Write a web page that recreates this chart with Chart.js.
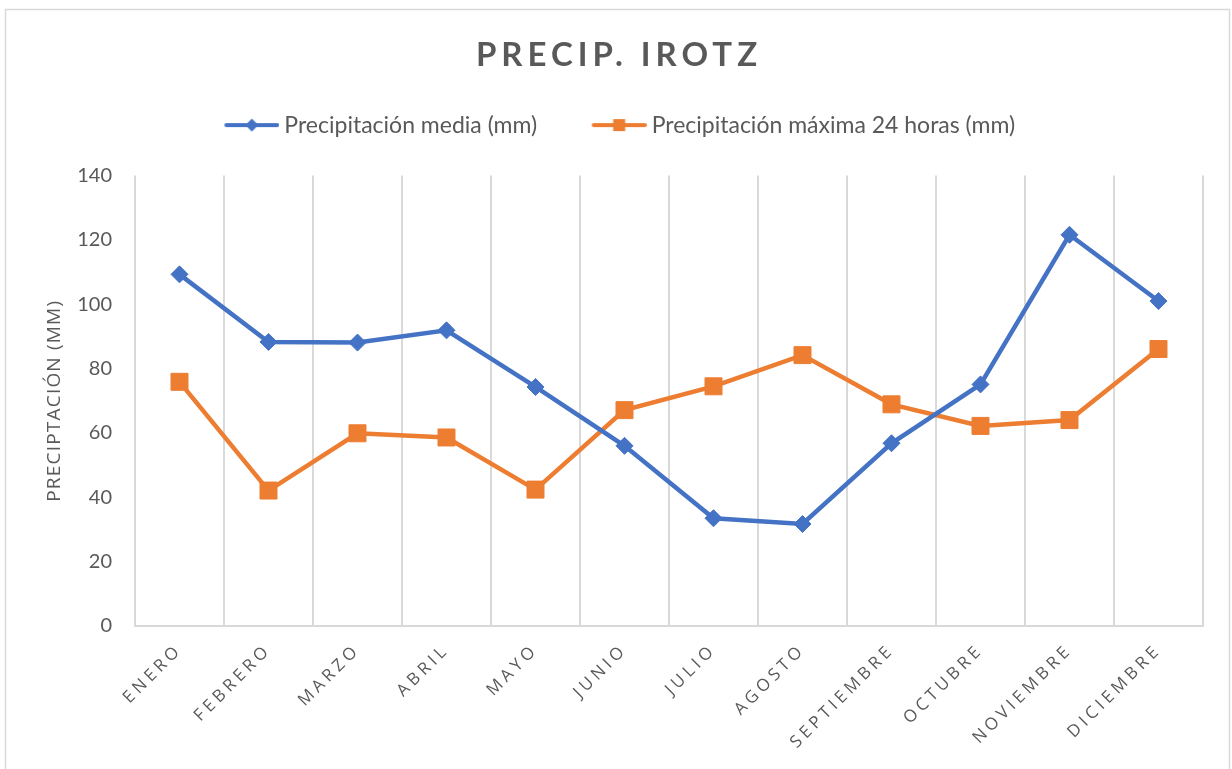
<!DOCTYPE html>
<html>
<head>
<meta charset="utf-8">
<script src="https://cdn.jsdelivr.net/npm/chart.js@4.4.1/dist/chart.umd.min.js"></script>
<style>
  html, body { margin: 0; padding: 0; background: #ffffff; }
  canvas { display: block; }
</style>
</head>
<body>
<canvas id="c" width="1232" height="769"></canvas>
<script>
const chartTitle = 'PRECIP. IROTZ';
const yAxisTitle = 'PRECIPTACIÓN (MM)';
const months = ['ENERO', 'FEBRERO', 'MARZO', 'ABRIL', 'MAYO', 'JUNIO', 'JULIO', 'AGOSTO', 'SEPTIEMBRE', 'OCTUBRE', 'NOVIEMBRE', 'DICIEMBRE'];
const seriesNames = ['Precipitación media (mm)', 'Precipitación máxima 24 horas (mm)'];
const precipMedia = [109.3, 88.3, 88.1, 91.9, 74.3, 56.0, 33.5, 31.7, 56.8, 75.1, 121.6, 101.0];
const precipMaxima24h = [75.9, 42.1, 59.9, 58.6, 42.4, 67.1, 74.5, 84.2, 68.9, 62.2, 64.0, 86.1];
const yTicks = { min: 0, max: 140, step: 20 };

const BLUE = '#4472C4';
const ORANGE = '#ED7D31';
const TEXT = '#595959';
const GRID = '#d9d9d9';

function legendImage(color, shape) {
  const c = document.createElement('canvas');
  c.width = 63; c.height = 20;
  const g = c.getContext('2d');
  g.strokeStyle = color; g.lineWidth = 4; g.lineCap = 'round';
  g.beginPath(); g.moveTo(10, 10); g.lineTo(61, 10); g.stroke();
  g.fillStyle = color;
  const cx = 35.5, cy = 10;
  g.beginPath();
  if (shape === 'diamond') {
    g.moveTo(cx, cy - 6.5); g.lineTo(cx + 6.5, cy); g.lineTo(cx, cy + 6.5); g.lineTo(cx - 6.5, cy);
  } else {
    g.rect(cx - 6, cy - 6, 12, 12);
  }
  g.closePath(); g.fill();
  return c;
}
const legendImgs = [legendImage(BLUE, 'diamond'), legendImage(ORANGE, 'square')];

function wrapSpacing(obj, fn, sp) {
  if (!obj || obj['__wrapped_' + fn]) return;
  const orig = obj[fn];
  obj[fn] = function (...args) {
    const c = this.ctx;
    c.save();
    c.letterSpacing = sp;
    const r = orig.apply(this, args);
    c.restore();
    return r;
  };
  obj['__wrapped_' + fn] = true;
}

const spacingPlugin = {
  id: 'spacingPlugin',
  beforeDraw(chart) {
    wrapSpacing(chart.titleBlock, 'draw', '5px');
    wrapSpacing(chart.scales.x, 'drawLabels', '4px');
    wrapSpacing(chart.scales.y, 'drawTitle', '1.2px');
    const ctx = chart.ctx;
    ctx.save();
    ctx.fillStyle = '#ffffff';
    ctx.fillRect(0, 0, chart.width, chart.height);
    ctx.strokeStyle = GRID;
    ctx.lineWidth = 1.5;
    ctx.strokeRect(5.5, 9.5, 1224, 770);
    ctx.restore();
  }
};

new Chart(document.getElementById('c'), {
  type: 'line',
  data: {
    labels: months,
    datasets: [
      {
        label: seriesNames[0],
        data: precipMedia,
        borderColor: BLUE,
        backgroundColor: BLUE,
        borderWidth: 4.5,
        tension: 0,
        pointStyle: 'rectRot',
        pointRadius: 8.5,
        pointHoverRadius: 8.5,
        pointBorderWidth: 1,
        pointBorderColor: BLUE,
        pointBackgroundColor: BLUE
      },
      {
        label: seriesNames[1],
        data: precipMaxima24h,
        borderColor: ORANGE,
        backgroundColor: ORANGE,
        borderWidth: 4.5,
        tension: 0,
        pointStyle: 'rect',
        pointRadius: 12,
        pointHoverRadius: 12,
        pointBorderWidth: 1,
        pointBorderColor: ORANGE,
        pointBackgroundColor: ORANGE
      }
    ]
  },
  options: {
    responsive: false,
    animation: false,
    devicePixelRatio: 1,
    layout: { padding: { top: 0, left: 6, right: 0, bottom: 0 } },
    plugins: {
      title: {
        display: true,
        text: chartTitle,
        color: TEXT,
        font: { family: 'Lato', size: 33, weight: 'bold', lineHeight: 1.2 },
        padding: { top: 36, bottom: -15 }
      },
      subtitle: {
        display: true,
        text: '',
        weight: 500,
        font: { family: 'Lato', size: 10, lineHeight: 1.2 },
        padding: { top: 17, bottom: 0 }
      },
      legend: {
        display: true,
        position: 'top',
        labels: {
          color: TEXT,
          font: { family: 'Lato', size: 23 },
          usePointStyle: true,
          pointStyleWidth: 50,
          padding: 53,
          generateLabels(chart) {
            const items = Chart.defaults.plugins.legend.labels.generateLabels(chart);
            items.forEach((it, i) => { it.pointStyle = legendImgs[i]; });
            return items;
          }
        }
      },
      tooltip: { enabled: false }
    },
    scales: {
      x: {
        offset: true,
        grid: { display: true, offset: true, color: GRID, lineWidth: 2, drawTicks: false },
        border: { display: true, color: GRID, width: 2 },
        ticks: {
          color: TEXT,
          font: { family: 'Open Sans', size: 17 },
          minRotation: 45,
          maxRotation: 45,
          autoSkip: false,
          padding: 14
        },
        afterFit(scale) { scale.height = 143; }
      },
      y: {
        min: yTicks.min,
        max: yTicks.max,
        grid: { display: false },
        border: { display: false },
        ticks: {
          stepSize: yTicks.step,
          color: TEXT,
          font: { family: 'Lato', size: 20 },
          padding: 15
        },
        title: {
          display: true,
          text: yAxisTitle,
          color: TEXT,
          font: { family: 'Open Sans', size: 19 },
          padding: { top: 37, bottom: 0 }
        },
        afterFit(scale) { scale.width = 129; }
      },
      yRight: {
        type: 'linear',
        position: 'right',
        display: true,
        grid: { display: false },
        border: { display: false },
        ticks: { display: false },
        afterFit(scale) { scale.width = 29; }
      }
    }
  },
  plugins: [spacingPlugin]
});
</script>
</body>
</html>
